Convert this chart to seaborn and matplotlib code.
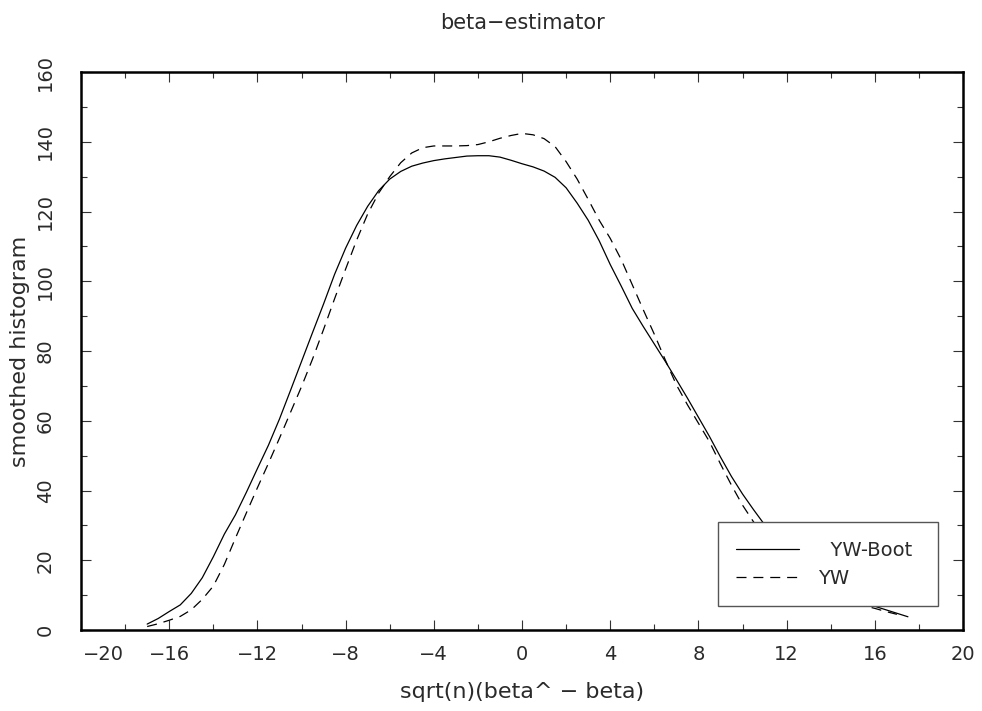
import numpy as np
import pandas as pd
import matplotlib
matplotlib.use("Agg")
import matplotlib.pyplot as plt
import matplotlib.transforms as mtransforms
import seaborn as sns

# smoothed histogram values
x_boot = np.arange(-17.0, 17.51, 0.5)
y_boot = [1.7, 3.3, 5.3, 7.2, 10.5, 15.0, 21.0, 27.5, 33.0, 39.5,
          46.3, 53.0, 60.5, 68.7, 77.0, 85.3, 93.5, 102.0, 109.5, 116.0,
          121.5, 126.0, 129.3, 131.5, 133.0, 133.9, 134.6, 135.1, 135.5, 135.9,
          136.0, 136.0, 135.6, 134.7, 133.7, 132.8, 131.6, 129.8, 126.8, 122.4,
          117.5, 111.6, 104.8, 98.6, 92.2, 87.0, 82.0, 77.0, 71.8, 66.5,
          61.0, 55.5, 49.6, 44.0, 39.0, 34.5, 30.2, 26.5, 23.0, 19.8,
          17.0, 14.5, 12.4, 10.5, 9.0, 7.7, 6.8, 5.8, 4.8, 3.8]

x_yw = np.arange(-17.0, 17.01, 0.5)
y_yw = [1.0, 1.8, 2.8, 3.9, 5.8, 8.8, 12.6, 18.8, 26.3, 33.6,
        40.8, 47.8, 55.0, 62.4, 69.8, 77.7, 86.2, 95.0, 103.5, 111.8,
        119.3, 125.3, 130.0, 134.0, 136.8, 138.3, 138.8, 138.8, 138.8, 138.9,
        139.2, 140.0, 141.0, 141.8, 142.4, 142.0, 140.9, 138.6, 134.3, 129.3,
        123.5, 117.5, 112.3, 106.2, 99.0, 91.8, 84.8, 77.4, 70.3, 64.6,
        59.3, 54.0, 47.6, 41.5, 35.8, 31.0, 27.0, 23.5, 20.5, 17.5,
        15.0, 12.8, 11.0, 9.4, 8.0, 7.0, 6.2, 5.3, 4.5]

x_ticks = np.arange(-20, 21, 4)
y_ticks = np.arange(0, 161, 20)

sns.set_theme(style="ticks")
plt.rcParams['font.family'] = ['DejaVu Sans']
txt = '#2a2a2a'

fig = plt.figure(figsize=(9.82, 7.11), dpi=100)
ax = fig.add_axes([0.0825, 0.1139, 0.8982, 0.7848])

sns.lineplot(x=x_boot, y=y_boot, ax=ax, color='black', lw=0.9,
             label='  YW-Boot', sort=False, estimator=None)
sns.lineplot(x=x_yw, y=y_yw, ax=ax, color='black', lw=0.9,
             label='YW', sort=False, estimator=None)
ax.lines[1].set_linestyle((0, (8, 5.5)))

ax.set_xlim(-20, 20)
ax.set_ylim(0, 160)
ax.set_xticks(x_ticks)
ax.set_xticklabels([str(v).replace('-', '\u2212') for v in x_ticks])
ax.set_yticks(y_ticks)
ax.set_xticks(np.arange(-20, 21, 2), minor=True)
ax.set_yticks(np.arange(0, 161, 10), minor=True)

for s in ax.spines.values():
    s.set_visible(True)
    s.set_linewidth(1.8)
    s.set_color('black')

ax.tick_params(which='both', direction='in', top=True, right=True,
               color='#333333', width=0.8)
ax.tick_params(which='major', length=7)
ax.tick_params(which='minor', length=4)
ax.tick_params(axis='x', which='major', labelsize=14, labelcolor=txt, pad=11)
ax.tick_params(axis='y', which='major', labelsize=14, labelcolor=txt, pad=19)
for lab in ax.get_yticklabels():
    lab.set_rotation(90)
    lab.set_va('center')

# first x label sits inside the frame, shifted right of its tick
first = ax.get_xticklabels()[0]
first.set_transform(first.get_transform() +
                    mtransforms.ScaledTranslation(22 / 100, 0, fig.dpi_scale_trans))

ax.set_xlabel('sqrt(n)(beta^ \u2212 beta)', fontsize=16, color=txt, labelpad=13)
ax.set_ylabel('smoothed histogram', fontsize=16, color=txt, labelpad=4)
ax.set_title('beta\u2212estimator', fontsize=15, color=txt, pad=31)

handles, labels = ax.get_legend_handles_labels()
leg = ax.legend(handles, labels, loc='lower left',
                bbox_to_anchor=(0.722, 0.043, 0.2497, 0.15), mode='expand',
                borderaxespad=0, fontsize=14, handlelength=3.2,
                handletextpad=1.0, borderpad=0.95, labelspacing=0.45,
                fancybox=False, framealpha=1, edgecolor='#555555')
leg.get_frame().set_linewidth(1.0)
for t in leg.get_texts():
    t.set_color(txt)

fig.savefig('out.png', dpi=100)
